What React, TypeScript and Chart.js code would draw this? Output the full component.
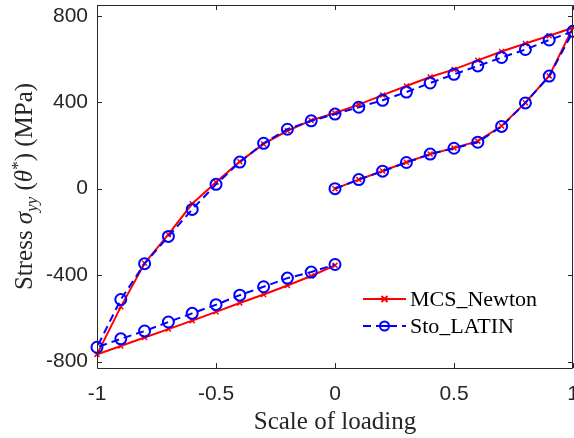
import { useEffect, useRef } from "react";
import { Chart, registerables } from "chart.js";

Chart.register(...registerables);

// Load path: 0 -> 1 (loading), 1 -> -1 (reverse loading), -1 -> 0 (reloading)
const scaleOfLoading = [
  0, 0.1, 0.2, 0.3, 0.4, 0.5, 0.6, 0.7, 0.8, 0.9, 1,
  0.9, 0.8, 0.7, 0.6, 0.5, 0.4, 0.3, 0.2, 0.1, 0,
  -0.1, -0.2, -0.3, -0.4, -0.5, -0.6, -0.7, -0.8, -0.9, -1,
  -0.9, -0.8, -0.7, -0.6, -0.5, -0.4, -0.3, -0.2, -0.1, 0,
];

// Stress sigma_yy (MPa) from the Monte-Carlo / Newton reference solver
const mcsNewton = [
  0, 42, 82, 122, 160, 188, 220, 290, 398, 522, 745,
  708, 672, 635, 594, 552, 517, 475, 433, 389, 350,
  316, 268, 207, 125, 30, -70, -212, -345, -547, -767,
  -728, -689, -650, -611, -570, -529, -490, -448, -404, -355,
];

// Stress sigma_yy (MPa) from the stochastic LATIN solver
const stoLatin = [
  0, 42, 81, 121, 160, 187, 215, 288, 397, 521, 728,
  688, 644, 607, 568, 529, 489, 447, 409, 377, 345,
  314, 275, 210, 123, 20, -96, -221, -347, -513, -734,
  -695, -659, -617, -577, -537, -493, -454, -414, -386, -351,
];

const xTicks = [-1, -0.5, 0, 0.5, 1];
const yTicks = [-800, -400, 0, 400, 800];

const seriesNames = ["MCS_Newton", "Sto_LATIN"];

const AXIS_COLOR = "#262626";
const RED = "#ff0000";
const BLUE = "#0000ff";
const SERIF = '"Liberation Serif", "Times New Roman", serif';
const SANS = '"Liberation Sans", Arial, Helvetica, sans-serif';
const TICK_SIZE = 21;

type Part = { text: string; font: string; dy?: number };

function drawRich(ctx: CanvasRenderingContext2D, parts: Part[], cx: number, y: number) {
  let total = 0;
  const widths = parts.map((p) => {
    ctx.font = p.font;
    const w = ctx.measureText(p.text).width;
    total += w;
    return w;
  });
  let x = cx - total / 2;
  parts.forEach((p, i) => {
    ctx.font = p.font;
    ctx.fillText(p.text, x, y + (p.dy || 0));
    x += widths[i];
  });
}

// Draw "MCS_Newton" style labels with a LaTeX-like rule for the underscore
function drawUnderscored(ctx: CanvasRenderingContext2D, text: string, x: number, y: number, size: number) {
  const pieces = text.split("_");
  ctx.font = `${size}px ${SERIF}`;
  let cx = x;
  pieces.forEach((piece, i) => {
    ctx.fillText(piece, cx, y);
    cx += ctx.measureText(piece).width;
    if (i < pieces.length - 1) {
      const w = size * 0.5;
      ctx.fillRect(cx, y + 1, w, 1.2);
      cx += w;
    }
  });
}

const framePlugin = {
  id: "frame",
  afterDraw(chart: any) {
    const { ctx, chartArea } = chart;
    const { left, right, top, bottom } = chartArea;
    const xs = chart.scales.x;
    const ys = chart.scales.y;
    ctx.save();

    // Box and inward ticks
    ctx.strokeStyle = AXIS_COLOR;
    ctx.lineWidth = 1;
    ctx.beginPath();
    ctx.rect(Math.round(left) + 0.5, Math.round(top) + 0.5, Math.round(right - left) - 1, Math.round(bottom - top));
    const tl = 5;
    xTicks.forEach((v) => {
      const px = Math.round(xs.getPixelForValue(v)) + 0.5;
      ctx.moveTo(px, bottom);
      ctx.lineTo(px, bottom - tl);
      ctx.moveTo(px, top);
      ctx.lineTo(px, top + tl);
    });
    yTicks.forEach((v) => {
      const py = Math.round(ys.getPixelForValue(v)) + 0.5;
      ctx.moveTo(left, py);
      ctx.lineTo(left + tl, py);
      ctx.moveTo(right, py);
      ctx.lineTo(right - tl, py);
    });
    ctx.stroke();

    // Axis titles
    ctx.fillStyle = AXIS_COLOR;
    ctx.textBaseline = "alphabetic";
    ctx.textAlign = "left";
    drawRich(ctx, [{ text: "Scale of loading", font: `25px ${SERIF}` }], (left + right) / 2, 429);

    ctx.save();
    ctx.translate(32, (top + bottom) / 2);
    ctx.rotate(-Math.PI / 2);
    drawRich(
      ctx,
      [
        { text: "Stress ", font: `25px ${SERIF}` },
        { text: "σ", font: `italic 25px ${SERIF}` },
        { text: "yy", font: `italic 17px ${SERIF}`, dy: 5 },
        { text: " (", font: `25px ${SERIF}` },
        { text: "θ", font: `italic 25px ${SERIF}` },
        { text: "*", font: `17px ${SERIF}`, dy: -9 },
        { text: ") (MPa)", font: `25px ${SERIF}` },
      ],
      0,
      0
    );
    ctx.restore();

    // Legend
    const lx0 = 363;
    const lx1 = 406;
    const rows = [299, 326];
    // MCS_Newton sample
    ctx.strokeStyle = RED;
    ctx.lineWidth = 2;
    ctx.setLineDash([]);
    ctx.beginPath();
    ctx.moveTo(lx0, rows[0]);
    ctx.lineTo(lx1, rows[0]);
    const mx = (lx0 + lx1) / 2;
    ctx.moveTo(mx - 3, rows[0] - 3);
    ctx.lineTo(mx + 3, rows[0] + 3);
    ctx.moveTo(mx - 3, rows[0] + 3);
    ctx.lineTo(mx + 3, rows[0] - 3);
    ctx.stroke();
    // Sto_LATIN sample
    ctx.strokeStyle = BLUE;
    ctx.setLineDash([8, 5]);
    ctx.beginPath();
    ctx.moveTo(lx0, rows[1]);
    ctx.lineTo(lx1, rows[1]);
    ctx.stroke();
    ctx.setLineDash([]);
    ctx.beginPath();
    ctx.moveTo(mx - 4, rows[1]);
    ctx.lineTo(mx + 4, rows[1]);
    ctx.stroke();
    ctx.beginPath();
    ctx.arc(mx, rows[1], 4.5, 0, Math.PI * 2);
    ctx.stroke();

    ctx.fillStyle = "#000000";
    drawUnderscored(ctx, seriesNames[0], 410, 306, 22);
    drawUnderscored(ctx, seriesNames[1], 410, 333, 22);

    ctx.restore();
  },
};

export default function App() {
  const canvasRef = useRef<HTMLCanvasElement | null>(null);

  useEffect(() => {
    const canvas = canvasRef.current;
    if (!canvas) return;
    const toPoints = (ys: number[]) => scaleOfLoading.map((x, i) => ({ x, y: ys[i] }));

    const chart = new Chart(canvas, {
      type: "scatter",
      data: {
        datasets: [
          {
            label: seriesNames[0],
            data: toPoints(mcsNewton),
            showLine: true,
            borderColor: RED,
            borderWidth: 2,
            pointStyle: "crossRot",
            pointRadius: 3.5,
            pointBorderWidth: 1.5,
            pointBorderColor: RED,
            pointBackgroundColor: RED,
            clip: false,
            order: 1,
          },
          {
            label: seriesNames[1],
            data: toPoints(stoLatin),
            showLine: true,
            borderColor: BLUE,
            borderWidth: 2,
            borderDash: [8, 5],
            pointStyle: "circle",
            pointRadius: 5.5,
            pointBorderWidth: 2,
            pointBorderColor: BLUE,
            pointBackgroundColor: "rgba(0,0,0,0)",
            clip: false,
            order: 0,
          },
        ],
      },
      options: {
        animation: false,
        responsive: false,
        layout: { autoPadding: false, padding: { top: 5, right: 1, left: 0, bottom: 0 } },
        plugins: {
          legend: { display: false },
          tooltip: { enabled: false },
        },
        scales: {
          x: {
            type: "linear",
            min: -1,
            max: 1,
            afterBuildTicks: (scale: any) => {
              scale.ticks = xTicks.map((value) => ({ value }));
            },
            afterFit: (scale: any) => {
              scale.height = 70;
              scale.paddingLeft = 0;
              scale.paddingRight = 0;
            },
            grid: { display: false, drawTicks: false },
            border: { display: false },
            ticks: {
              padding: 14,
              color: AXIS_COLOR,
              font: { family: SANS, size: TICK_SIZE },
              maxRotation: 0,
              callback: (v: any) => String(v),
            },
          },
          y: {
            type: "linear",
            min: -830,
            max: 850,
            afterBuildTicks: (scale: any) => {
              scale.ticks = yTicks.map((value) => ({ value }));
            },
            afterFit: (scale: any) => {
              scale.width = 97;
              scale.paddingTop = 0;
              scale.paddingBottom = 0;
            },
            grid: { display: false, drawTicks: false },
            border: { display: false },
            ticks: {
              padding: 9,
              color: AXIS_COLOR,
              font: { family: SANS, size: TICK_SIZE },
              callback: (v: any) => String(v),
            },
          },
        },
      },
      plugins: [framePlugin],
    });

    return () => chart.destroy();
  }, []);

  return (
    <div style={{ position: "fixed", left: 0, top: 0, width: 574, height: 438, background: "#ffffff" }}>
      <canvas ref={canvasRef} width={574} height={438} style={{ display: "block" }} />
    </div>
  );
}
